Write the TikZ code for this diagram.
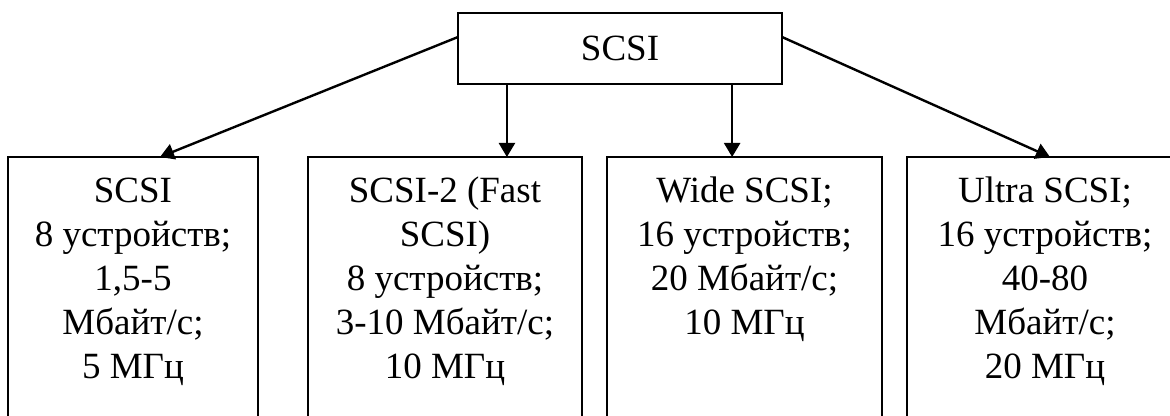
\documentclass[tikz,border=0pt]{standalone}
\usepackage{fontspec}
\setmainfont{Liberation Serif}
\usetikzlibrary{arrows.meta,calc}
\begin{document}
\begin{tikzpicture}[x=0.5pt,y=-0.5pt,
  box/.style={draw,line width=1.1pt,inner sep=0pt,outer sep=0pt,rectangle},
  txt/.style={font=\fontsize{18.5}{22}\selectfont,align=center,inner sep=0pt,anchor=north},
  arr/.style={line width=1.2pt,-{Triangle[length=7pt,width=8pt]}}]
\useasboundingbox (0,0) rectangle (1170,416);
\clip (0,0) rectangle (1170,416);
\node[box,minimum width=162pt,minimum height=35.5pt,font=\fontsize{18.5}{22}\selectfont] (top) at (620,48.5) {SCSI};
\node[box,minimum width=125pt,minimum height=151.5pt] (b1) at (133,308.5) {};
\node[box,minimum width=137pt,minimum height=151.5pt] (b2) at (445,308.5) {};
\node[box,minimum width=137.5pt,minimum height=151.5pt] (b3) at (744.5,308.5) {};
\node[box,minimum width=138pt,minimum height=151.5pt] (b4) at (1045,308.5) {};
\node[txt] (t1) at (133,171.2) {\strut SCSI\\8 устройств;\\1,5-5\\Мбайт/с;\\5 МГц};
\node[txt] (t2) at (445,171.2) {\strut SCSI-2 (Fast\\SCSI)\\8 устройств;\\3-10 Мбайт/с;\\10 МГц};
\node[txt] (t3) at (744.5,171.2) {\strut Wide SCSI;\\16 устройств;\\20 Мбайт/с;\\10 МГц};
\node[txt] (t4) at (1045,171.2) {\strut Ultra SCSI;\\16 устройств;\\40-80\\Мбайт/с;\\20 МГц};
\coordinate (a2) at ($(b2.north west)!0.726!(b2.north east)$);
\coordinate (a3) at ($(b3.north west)!0.455!(b3.north east)$);
\draw[arr] ($(top.north west)!0.338!(top.south west)$) -- ($(b1.north west)!0.608!(b1.north east)$);
\draw[arr] (top.south -| a2) -- (a2);
\draw[arr] (top.south -| a3) -- (a3);
\draw[arr] ($(top.north east)!0.338!(top.south east)$) -- ($(b4.north west)!0.518!(b4.north east)$);
\end{tikzpicture}
\end{document}
